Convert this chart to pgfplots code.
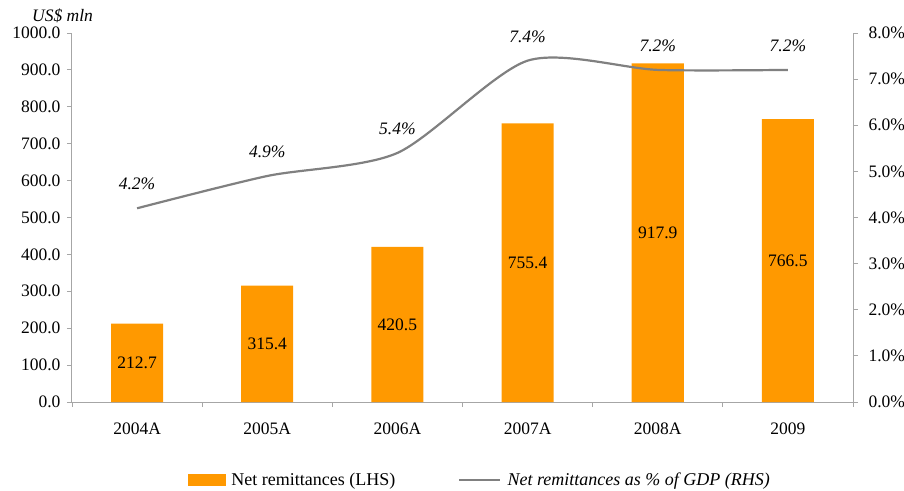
\documentclass[border=0pt]{standalone}
\usepackage{pgfplots}
\usepackage{pgfplotstable}
\pgfplotsset{compat=1.18}
\usepackage{fontspec}
\setmainfont{Liberation Serif}
\definecolor{barorange}{RGB}{255,153,0}
\definecolor{linegray}{RGB}{128,128,128}
\definecolor{axisgray}{RGB}{166,166,166}
\newcommand{\fs}{\fontsize{17.5bp}{21bp}\selectfont}
\newcommand{\fl}{\fontsize{18bp}{21bp}\selectfont}

\pgfplotstableread{
x v
0 212.7
1 315.4
2 420.5
3 755.4
4 917.9
5 766.5
}\bardata

\pgfplotstableread{
x p
0 4.2
1 4.9
2 5.4
3 7.4
4 7.2
5 7.2
}\linedata

\begin{document}
\begin{tikzpicture}[font=\fs]
\useasboundingbox (-72bp,-89bp) rectangle (832bp,402bp);
\begin{axis}[
  at={(0,0)}, anchor=south west,
  scale only axis, width=781bp, height=369bp,
  xmin=-0.5, xmax=5.5, ymin=0, ymax=1000,
  clip=false,
  axis x line*=bottom, axis y line*=left,
  axis line style={axisgray, line width=1bp, -},
  tick align=outside,
  major tick length=5bp, minor tick length=5bp,
  tick style={axisgray, line width=0.8bp},
  xtick={0,...,5},
  xticklabels={2004A,2005A,2006A,2007A,2008A,2009},
  major x tick style={draw=none},
  minor xtick={-0.5,0.5,1.5,2.5,3.5,4.5,5.5},
  ytick={0,100,...,1000},
  tick label style={font=\fs},
  yticklabel style={xshift=-3bp, /pgf/number format/.cd, fixed, fixed zerofill, precision=1, 1000 sep={}, assume math mode=true},
  xticklabel style={yshift=-12bp},
]
\addplot[ybar, bar width=52bp, fill=barorange, draw=none] table[x=x, y=v] {\bardata};
\addplot[draw=none, mark=none, nodes near coords, point meta=explicit symbolic,
  nodes near coords style={anchor=center, font=\fs, text=black}]
  table[x=x, y expr=\thisrow{v}/2, meta=v] {\bardata};
\node[font=\fs\itshape] at (rel axis cs:-0.012,1.046) {US\$ mln};
\end{axis}
\begin{axis}[
  at={(0,0)}, anchor=south west,
  scale only axis, width=781bp, height=369bp,
  xmin=-0.5, xmax=5.5, ymin=0, ymax=8,
  clip=false,
  axis x line=none, axis y line*=right,
  axis line style={axisgray, line width=1bp, -},
  tick align=outside,
  major tick length=5bp,
  tick style={axisgray, line width=0.8bp},
  ytick={0,1,...,8},
  tick label style={font=\fs},
  yticklabel={\pgfmathprintnumber[fixed,fixed zerofill,precision=1,assume math mode=true]{\tick}\%},
  yticklabel style={xshift=7bp},
  legend style={at={(axis description cs:0.1485,-0.2114)}, anchor=west, draw=none,
    inner sep=0pt, outer sep=0pt, font=\fl,
    nodes={inner sep=3bp},
    /tikz/every odd column/.append style={column sep=3bp},
    /tikz/every even column/.append style={column sep=60bp}},
  legend columns=2,
]
\addlegendimage{legend image code/.code={\fill[barorange] (0bp,-5.5bp) rectangle (37bp,5.5bp);}}
\addlegendentry{Net remittances (LHS)}
\addplot[linegray, line width=2.2bp, smooth, tension=0.45, mark=none,
  nodes near coords={\pgfmathprintnumber[fixed,fixed zerofill,precision=1,assume math mode=true]{\pgfplotspointmeta}\%},
  point meta=y,
  nodes near coords style={anchor=center, yshift=24bp, font=\fs\itshape, text=black},
  legend image code/.code={\draw[linegray, line width=2.2bp] (0bp,0bp) -- (41bp,0bp);}]
  table[x=x, y=p] {\linedata};
\addlegendentry{\textit{Net remittances as \% of GDP (RHS)}}
\end{axis}
\end{tikzpicture}
\end{document}
